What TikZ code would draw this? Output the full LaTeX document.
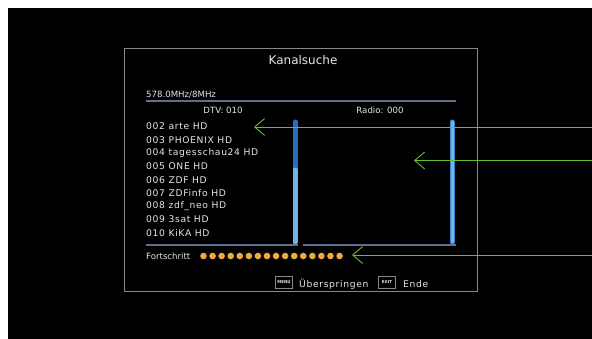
\documentclass[tikz,border=0pt]{standalone}
\usepackage{fontspec}
\setmainfont{DejaVu Sans}
\newfontfamily\osdwide[LetterSpace=7]{DejaVu Sans}
\usetikzlibrary{arrows.meta,positioning}
\definecolor{osdtext}{RGB}{230,230,230}
\definecolor{framegray}{RGB}{130,135,145}
\definecolor{sepblue}{RGB}{95,110,140}
\definecolor{bardark}{RGB}{35,110,190}
\definecolor{barlight}{RGB}{110,180,230}
\definecolor{dotorange}{RGB}{240,170,60}
\definecolor{pointgreen}{RGB}{100,190,50}
\tikzset{
	osd/.style={text=osdtext,inner sep=0pt,font=\fontsize{8.6}{10}\selectfont},
	chan/.style={osd,anchor=west,font=\osdwide\fontsize{9.2}{10}\selectfont},
	sep/.style={sepblue,line width=2pt},
	pointer/.style={pointgreen,line width=0.9pt,-{Straight Barb[length=10pt,width=17pt,line width=0.9pt]}},
	keybox/.style={draw=framegray,fill=black,text=osdtext,font=\bfseries\fontsize{4}{4}\selectfont,minimum width=17pt,minimum height=12pt,inner sep=0pt}
}
\begin{document}
\begin{tikzpicture}[x=1pt,y=-1pt]
	\useasboundingbox (0,0) rectangle (592,339);
	\fill[black] (8,8) rectangle (592,339);
	\draw[framegray,line width=1pt] (124,49) rectangle (477,292);
	% header
	\node[osd,font=\fontsize{12}{14}\selectfont] (title) at (303,60) {Kanalsuche};
	\node[osd,anchor=west] (freq) at (146,95) {578.0MHz/8MHz};
	\draw[sep] (146,101) -- (456,101);
	\node[osd] (dtv) at (223,110) {DTV: 010};
	\node[osd] (radio) at (380,110) {Radio: 000};
	% channel list
	\foreach \name [count=\i] in {002 arte HD,003 PHOENIX HD,004 tagesschau24 HD,005 ONE HD,006 ZDF HD,007 ZDFinfo HD,008 zdf\_neo HD,009 3sat HD,010 KiKA HD}
		\node[chan] (ch\i) at (146,{126.5+13.3*(\i-1)}) {\name};
	% scrollbars
	\draw[bardark,line width=5pt,line cap=round] (295,122) -- (295,170);
	\draw[barlight,line width=5pt,line cap=round] (295,170) -- (295,242);
	\draw[bardark!70!barlight,line width=5pt,line cap=round] (452,122) -- (452,242);
	\draw[barlight,line width=3pt,line cap=round] (452,122) -- (452,242);
	\draw[sep] (146,245) -- (298,245);
	\draw[sep] (303,245) -- (456,245);
	% progress
	\node[osd,anchor=west] (progress) at (146,256) {Fortschritt};
	\foreach \k in {0,...,15}
		\fill[dotorange] ({203.5+9.07*\k},256) circle (3.3);
	% keys
	\node[keybox] (menu) at (284,282.5) {MENU};
	\node[chan] (skip) at (299,284) {Überspringen};
	\node[keybox] (exit) at (387,282.5) {EXIT};
	\node[chan] (quit) at (403,284) {Ende};
	% pointers
	\coordinate (tipA) at (254,127);
	\coordinate (tipB) at (414,160.5);
	\coordinate (tipC) at (352,255);
	\coordinate (endA) at (592,127);
	\coordinate (endB) at (592,160.5);
	\coordinate (endC) at (592,255);
	\draw[pointer] (endA) -- (tipA);
	\draw[pointer] (endB) -- (tipB);
	\draw[pointer] (endC) -- (tipC);
\end{tikzpicture}
\end{document}
